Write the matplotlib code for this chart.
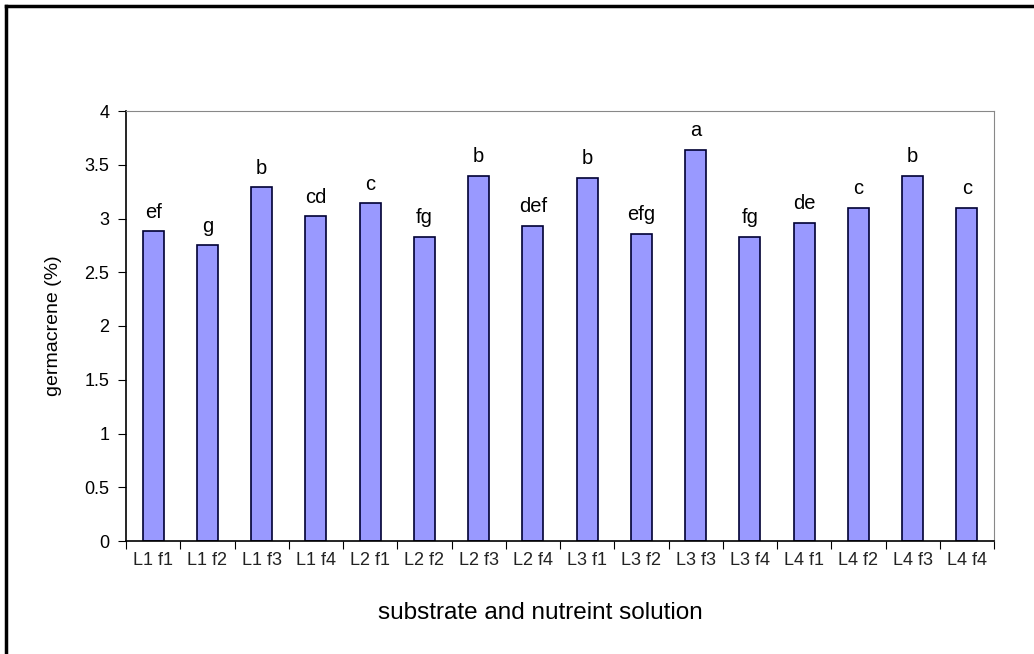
import matplotlib.pyplot as plt
from matplotlib.lines import Line2D

plt.rcParams['font.family'] = ['Liberation Sans', 'DejaVu Sans']

treatments = ["L1 f1", "L1 f2", "L1 f3", "L1 f4",
              "L2 f1", "L2 f2", "L2 f3", "L2 f4",
              "L3 f1", "L3 f2", "L3 f3", "L3 f4",
              "L4 f1", "L4 f2", "L4 f3", "L4 f4"]
germacrene = [2.88, 2.75, 3.29, 3.02,
              3.14, 2.83, 3.40, 2.93,
              3.38, 2.86, 3.64, 2.83,
              2.96, 3.10, 3.40, 3.10]
letters = ["ef", "g", "b", "cd",
           "c", "fg", "b", "def",
           "b", "efg", "a", "fg",
           "de", "c", "b", "c"]

fig = plt.figure(figsize=(10.34, 6.54), dpi=100)
ax = fig.add_axes([126 / 1034, 113 / 654, 868 / 1034, 430 / 654])

x = range(len(treatments))
ax.bar(x, germacrene, width=0.39, color="#9999ff", edgecolor="#000033", linewidth=1.2)

for i, (v, t) in enumerate(zip(germacrene, letters)):
    ax.text(i, v + 0.09, t, ha="center", va="bottom", fontsize=14.5)

ax.set_xlim(-0.5, len(treatments) - 0.5)
ax.set_ylim(0, 4)
ax.set_yticks([0, 0.5, 1, 1.5, 2, 2.5, 3, 3.5, 4])
ax.set_yticklabels(["0", "0.5", "1", "1.5", "2", "2.5", "3", "3.5", "4"])
ax.set_xticks([i + 0.5 for i in range(-1, len(treatments))])
ax.set_xticklabels([])
ax.set_xticks(list(x), minor=True)
ax.set_xticklabels(treatments, minor=True)
ax.tick_params(axis="x", which="minor", length=0, pad=8, labelsize=13, colors="#222222")
ax.tick_params(axis="x", which="major", length=6, direction="out")
ax.tick_params(axis="y", length=6, direction="out", labelsize=13, pad=6)

ax.spines["top"].set_color("#888888")
ax.spines["right"].set_color("#888888")
ax.spines["left"].set_linewidth(1.2)
ax.spines["bottom"].set_linewidth(1.2)

ax.set_ylabel("germacrene (%)", fontsize=14, labelpad=16)
ax.set_xlabel("substrate and nutreint solution", fontsize=17.5, labelpad=24)
ax.xaxis.label.set_x(0.477)

# outer frame of the chart area (left and top edges)
fig.add_artist(Line2D([6 / 1034, 6 / 1034], [0, 1 - 6 / 654], color="black", lw=2.5,
                      transform=fig.transFigure))
fig.add_artist(Line2D([6 / 1034, 1], [1 - 6 / 654, 1 - 6 / 654], color="black", lw=2.5,
                      transform=fig.transFigure))

fig.savefig("out.png", dpi=100)
